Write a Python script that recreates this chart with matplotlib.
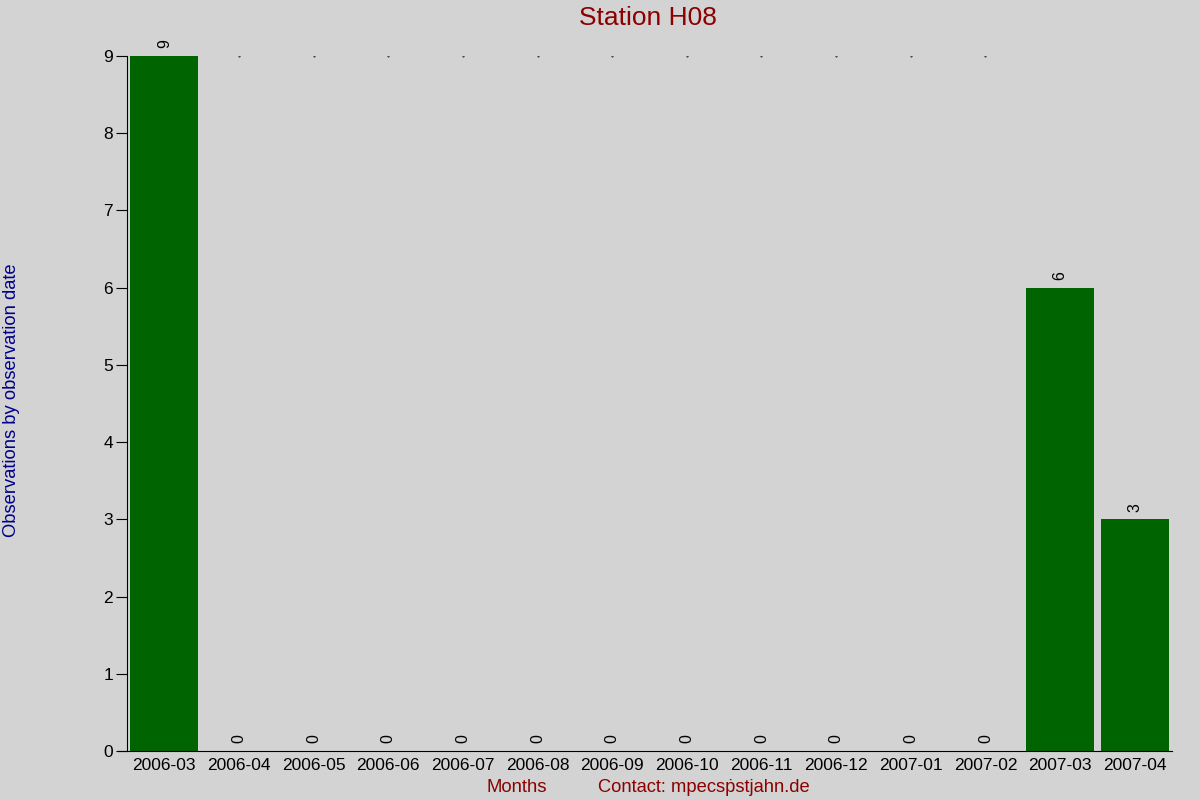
import numpy as np
import matplotlib.pyplot as plt

plt.rcParams['font.family'] = ['Liberation Sans', 'DejaVu Sans']

months = ['2006-03', '2006-04', '2006-05', '2006-06', '2006-07', '2006-08', '2006-09',
          '2006-10', '2006-11', '2006-12', '2007-01', '2007-02', '2007-03', '2007-04']
counts = [9, 0, 0, 0, 0, 0, 0, 0, 0, 0, 0, 0, 6, 3]

bg = '#d3d3d3'
fig = plt.figure(figsize=(12, 8), dpi=100, facecolor=bg)
ax = fig.add_axes([127 / 1200, 49 / 800, (1172 - 127) / 1200, (751 - 56) / 800])
ax.set_facecolor(bg)

x = np.arange(len(months))
ax.bar(x, counts, width=0.91, color='#006400')

# tiny dots on the top line for empty months
ymax = max(counts)
for i, c in enumerate(counts):
    if c == 0:
        ax.plot(i, ymax, marker='.', markersize=0.8, color='black')
    ax.text(i, c + 0.1, str(c), rotation=90, ha='center', va='bottom', fontsize=11.5)

ax.set_xlim(-0.5, len(months) - 0.5)
ax.set_ylim(0, ymax)
ax.set_yticks(range(0, ymax + 1))
ax.set_xticks(x)
ax.set_xticklabels(months)
ax.tick_params(axis='x', length=0, labelsize=12.5, pad=5)
ax.tick_params(axis='y', length=8, labelsize=12.5, direction='out', pad=2)
for s in ['top', 'right']:
    ax.spines[s].set_visible(False)
ax.spines['bottom'].set_bounds(-0.62, len(months) - 0.5)
ax.spines['bottom'].set_clip_on(False)

fig.text(0.54, 0.977, 'Station H08', ha='center', va='center', fontsize=19, color='#8b0000')
fig.text(0.0095, 0.5, 'Observations by observation date', rotation=90, ha='center',
         va='center', fontsize=13.2, color='#00008b')
fig.text(517 / 1200, 1 - 792 / 800, 'Months', ha='center', va='baseline', fontsize=13.3, color='#8b0000')
fig.text(704 / 1200, 1 - 792 / 800, 'Contact: mpecs\u1e57stjahn.de', ha='center', va='baseline',
         fontsize=13.2, color='#8b0000')

fig.savefig('out.png', dpi=100, facecolor=bg)
